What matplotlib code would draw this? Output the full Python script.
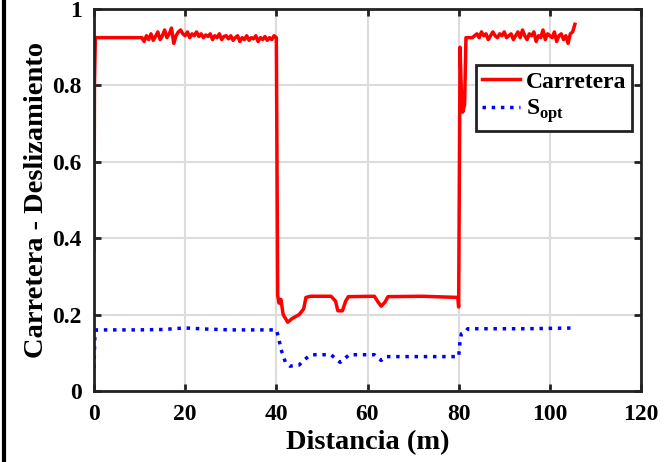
import numpy as np
import matplotlib
matplotlib.use("Agg")
import matplotlib.pyplot as plt
from matplotlib.lines import Line2D

plt.rcParams['font.family'] = ['Liberation Serif', 'DejaVu Serif']
plt.rcParams['font.weight'] = 'bold'
plt.rcParams['mathtext.fontset'] = 'custom'
plt.rcParams['mathtext.bf'] = 'Liberation Serif:bold'
plt.rcParams['mathtext.rm'] = 'Liberation Serif:bold'

# Carretera (red) - hand
x_road = [0, 0.1, 0.3, 1, 10]
y_road = [0.37, 0.80, 0.925, 0.925, 0.925]
x_noise1 = list(np.arange(10.5, 40.01, 0.5))
y_noise1 = [0.925, 0.915, 0.93, 0.92, 0.935, 0.918, 0.928, 0.94, 0.92, 0.93,
            0.945, 0.925, 0.935, 0.95, 0.91, 0.93, 0.94, 0.945, 0.935, 0.93,
            0.94, 0.925, 0.935, 0.93, 0.94, 0.928, 0.935, 0.925, 0.932, 0.928,
            0.935, 0.92, 0.93, 0.925, 0.935, 0.92, 0.928, 0.93, 0.922, 0.93,
            0.918, 0.925, 0.93, 0.915, 0.925, 0.92, 0.93, 0.918, 0.925, 0.922,
            0.93, 0.915, 0.925, 0.92, 0.928, 0.918, 0.925, 0.92, 0.93, 0.925]
x_mid = [40.3, 40.6, 41, 41.5, 42.5, 43.5, 45, 46, 46.5, 47.5, 52, 53, 53.5,
         54.5, 55.2, 55.8, 61.5, 62.2, 63, 63.8, 64.5, 72, 79.8, 80, 80.3,
         80.6, 80.9, 81.3, 81.6, 83]
y_mid = [0.25, 0.23, 0.24, 0.20, 0.18, 0.19, 0.20, 0.215, 0.245, 0.248, 0.248,
         0.235, 0.21, 0.21, 0.235, 0.247, 0.248, 0.235, 0.222, 0.232, 0.247,
         0.248, 0.245, 0.22, 0.90, 0.78, 0.73, 0.75, 0.925, 0.925]
x_noise2 = list(np.arange(83.5, 105.51, 0.5))
y_noise2 = [0.93, 0.935, 0.925, 0.94, 0.93, 0.935, 0.92, 0.93, 0.94, 0.93,
            0.925, 0.935, 0.93, 0.94, 0.925, 0.93, 0.935, 0.92, 0.93, 0.94,
            0.925, 0.945, 0.93, 0.92, 0.935, 0.93, 0.94, 0.915, 0.93, 0.925,
            0.945, 0.92, 0.935, 0.93, 0.925, 0.94, 0.915, 0.93, 0.935, 0.92,
            0.93, 0.91, 0.935, 0.94, 0.96]
road_x = x_road + x_noise1 + x_mid + x_noise2
road_y = y_road + y_noise1 + y_mid + y_noise2

# S_opt (blue dotted)
sopt_x = [0, 0.2, 0.5, 10, 15, 20, 25, 30, 40, 40.5, 41, 42, 43, 45, 46, 47,
          48, 52, 53.5, 54, 55, 56, 61.5, 62.5, 63, 64, 80, 80.3, 80.6, 81.5,
          82, 95, 105.5]
sopt_y = [0.06, 0.15, 0.16, 0.16, 0.161, 0.165, 0.162, 0.16, 0.16, 0.14, 0.11,
          0.075, 0.065, 0.068, 0.08, 0.09, 0.095, 0.095, 0.08, 0.075, 0.085,
          0.095, 0.095, 0.085, 0.08, 0.09, 0.09, 0.13, 0.15, 0.155, 0.163,
          0.163, 0.165]

fig = plt.figure(figsize=(6.64, 4.62), dpi=100)
ax = fig.add_axes([94/664, 1-391/462, 547/664, 382/462])

ax.plot(road_x, road_y, color='red', lw=2.5, label='Carretera')
ax.plot(sopt_x, sopt_y, color='blue', lw=2.5, ls=':', label=r'S$_{\mathbf{opt}}$')

ax.set_xlim(0, 120)
ax.set_ylim(0, 1)
ax.set_xticks(range(0, 121, 20))
ax.set_yticks([0, 0.2, 0.4, 0.6, 0.8, 1])
ax.set_yticklabels(['0', '0.2', '0.4', '0.6', '0.8', '1'])
ax.grid(True, color='#dcdcdc', lw=1.5)
ax.set_axisbelow(True)
for s in ax.spines.values():
    s.set_linewidth(2)
    s.set_color('#222222')
ax.tick_params(direction='in', length=5, width=2, top=True, right=True,
               labelsize=17, pad=9, color='#222222')
ax.set_xlabel('Distancia (m)', fontsize=20.5, fontweight='bold', labelpad=4)
ax.set_ylabel('Carretera - Deslizamiento', fontsize=20.5, fontweight='bold', labelpad=2)

leg = ax.legend(loc='upper right', bbox_to_anchor=(0.984, 0.853), borderaxespad=0,
                fancybox=False, edgecolor='#222222', framealpha=1,
                prop={'size': 17, 'weight': 'bold'}, handlelength=1.6,
                handletextpad=0.25, borderpad=0.25, labelspacing=0.2)
leg.get_frame().set_linewidth(2)

fig.add_artist(Line2D([4/664, 4/664], [0, 1], color='black', lw=3,
                      transform=fig.transFigure))

fig.savefig('out.png', dpi=100)
